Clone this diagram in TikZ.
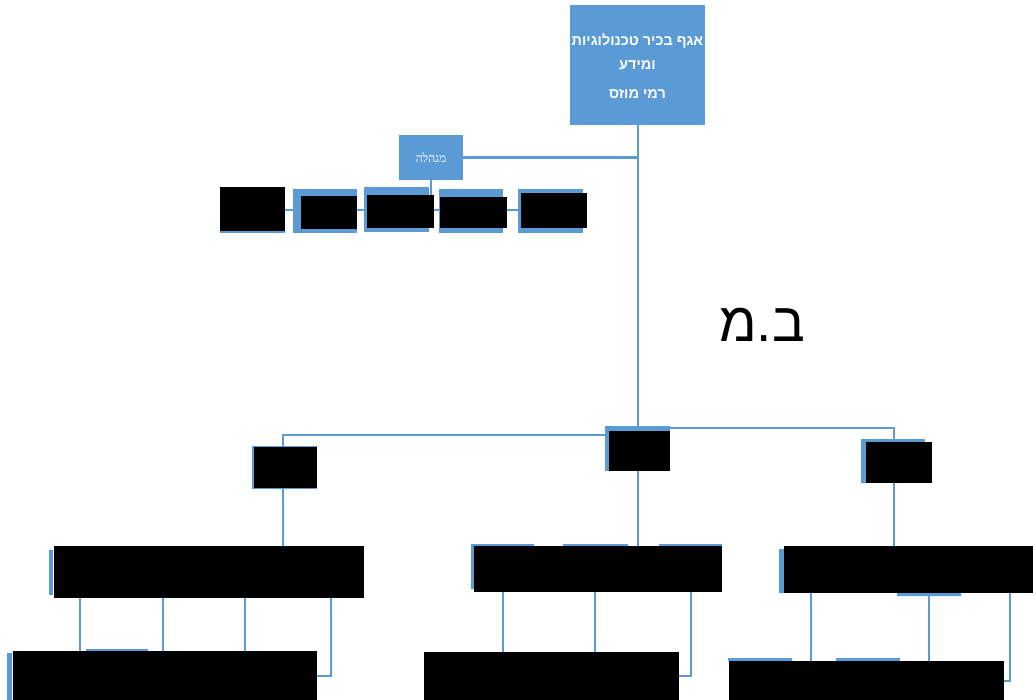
\documentclass[tikz,border=0pt]{standalone}
\usepackage{fontspec}
\setmainfont{Liberation Sans}
\newfontfamily\heb[Script=Hebrew]{Liberation Sans}
\newfontfamily\hebserif[Script=Hebrew]{Liberation Serif}
\TeXXeTstate=1
\usetikzlibrary{backgrounds}
\definecolor{obl}{HTML}{5B9BD5}
\newcommand\mybox[6]{\node[#6,anchor=north west,minimum width={#4bp-#2bp},minimum height={#5bp-#3bp}] (#1) at (#2,#3) {};}
\begin{document}
\begin{tikzpicture}[x=1bp,y=-1bp,
  blk/.style={fill=black,inner sep=0pt,outer sep=0pt},
  bbk/.style={fill=obl,inner sep=0pt,outer sep=0pt},
  conn/.style={draw=obl,line width=2bp}]
\useasboundingbox (0,0) rectangle (1033,700);
% top
\mybox{top}{570}{5}{705}{125}{bbk}
\node[text=white,font=\heb\bfseries\fontsize{14.5}{24}\selectfont,align=center,inner sep=0pt] (toptxt) at ([yshift=-1bp]top.center)
  {\beginR אגף בכיר טכנולוגיות\endR\\ \beginR ומידע\endR\\[5bp] \beginR רמי מוזס\endR};
\mybox{mgmt}{399}{135}{463}{180}{bbk}
\node[text=white,font=\hebserif\fontsize{12}{14}\selectfont,inner sep=0pt] (mgmttxt) at (mgmt.center) {\beginR מנהלה\endR};
% row under mgmt
\fill[obl] (220,230) rectangle (285,233);
\mybox{r1}{220}{187}{285}{231}{blk}
\mybox{r2b}{293}{189}{357}{233}{bbk}
\mybox{r2}{301}{196}{357}{229}{blk}
\mybox{r3b}{364}{187}{429}{232}{bbk}
\mybox{r3}{367}{195}{434}{228}{blk}
\mybox{r4b}{439}{189}{503}{233}{bbk}
\mybox{r4}{440}{197}{507}{228}{blk}
\mybox{r5b}{518}{189}{583}{233}{bbk}
\mybox{r5}{521}{193}{587}{228}{blk}
% big label
\node[font=\heb\fontsize{55}{60}\selectfont,inner sep=0pt] (bm) at (762,325) {\beginR ב.מ\endR};
% level 2
\mybox{L2b}{252}{446}{317}{489}{bbk}
\mybox{L2}{254}{447}{317}{488}{blk}
\mybox{midb}{605}{426}{670}{471}{bbk}
\mybox{mid}{609}{431}{670}{471}{blk}
\mybox{R2b}{861}{439}{925}{483}{bbk}
\mybox{R2}{866}{442}{932}{483}{blk}
% level 3
\fill[obl] (49,550) rectangle (53,595);
\mybox{L3}{54}{546}{364}{598}{blk}
\fill[obl] (471,544) rectangle (534,547) (563,544) rectangle (628,547) (659,544) rectangle (722,547) (471,545) rectangle (474,589);
\mybox{C3}{474}{546}{722}{592}{blk}
\fill[obl] (779,549) rectangle (784,593) (897,592) rectangle (961,596);
\mybox{R3}{784}{546}{1033}{593}{blk}
% level 4
\fill[obl] (7,653) rectangle (12,700) (86,649) rectangle (148,652);
\mybox{L4}{13}{651}{317}{700}{blk}
\mybox{C4}{424}{652}{679}{700}{blk}
\fill[obl] (728,658) rectangle (792,661) (836,658) rectangle (900,661);
\mybox{R4}{729}{661}{1004}{700}{blk}
% helper coordinates
\coordinate (yrow) at (0,210);
\coordinate (hy1) at (0,435);
\coordinate (hy2) at (0,428);
\coordinate (x283) at (283,0);
\coordinate (x894) at (894,0);
\coordinate (xa) at (80,0);
\coordinate (xb) at (163,0);
\coordinate (xc) at (245,0);
\coordinate (xd) at (331,0);
\coordinate (xe) at (503,0);
\coordinate (xf) at (595,0);
\coordinate (xg) at (691,0);
\coordinate (xh) at (811,0);
\coordinate (xi) at (929,0);
\coordinate (xj) at (1010,0);
\begin{scope}[on background layer]
\draw[conn] (top.south) -- (top.south |- midb.north);
\draw[conn] (mgmt.east) -- (mgmt.east -| top.south);
\draw[conn] (mgmt.south) -- (mgmt.south |- r3.north);
\draw[conn] (r1.east |- yrow) -- (r2b.west |- yrow);
\draw[conn] (r2.east |- yrow) -- (r3b.west |- yrow);
\draw[conn] (r3.east |- yrow) -- (r4b.west |- yrow);
\draw[conn] (r4.east |- yrow) -- (r5b.west |- yrow);
\draw[conn] (x283 |- L2b.north) -- (x283 |- hy1) -- (midb.west |- hy1);
\draw[conn] (midb.east |- hy2) -| (x894 |- R2b.north);
\draw[conn] (x283 |- L2b.south) -- (x283 |- L3.north);
\draw[conn] (top.south |- mid.south) -- (top.south |- C3.north);
\draw[conn] (x894 |- R2b.south) -- (x894 |- R3.north);
\draw[conn] (xa |- L3.south) -- (xa |- L4.north);
\draw[conn] (xb |- L3.south) -- (xb |- L4.north);
\draw[conn] (xc |- L3.south) -- (xc |- L4.north);
\draw[conn] (xd |- L3.south) |- (L4.east);
\draw[conn] (xe |- C3.south) -- (xe |- C4.north);
\draw[conn] (xf |- C3.south) -- (xf |- C4.north);
\draw[conn] (xg |- C3.south) |- (C4.east);
\draw[conn] (xh |- R3.south) -- (xh |- R4.north);
\draw[conn] (xi |- R3.south) -- (xi |- R4.north);
\draw[conn] (xj |- R3.south) |- (R4.east);
\end{scope}
\end{tikzpicture}
\end{document}
